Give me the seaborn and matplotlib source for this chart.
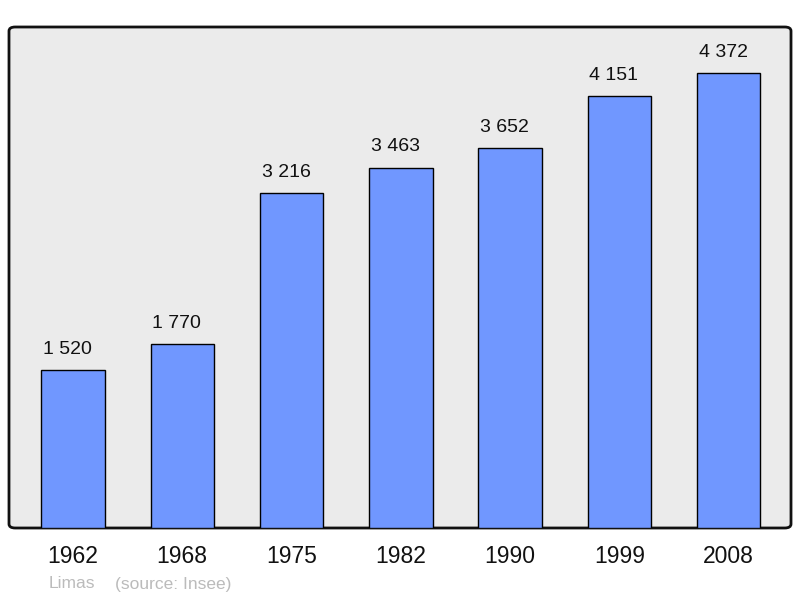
import matplotlib
matplotlib.use("Agg")
import matplotlib.pyplot as plt
from matplotlib.patches import FancyBboxPatch
import seaborn as sns
import pandas as pd

years = ["1962", "1968", "1975", "1982", "1990", "1999", "2008"]
population = [1520, 1770, 3216, 3463, 3652, 4151, 4372]
labels = ["1 520", "1 770", "3 216", "3 463", "3 652", "4 151", "4 372"]

d = pd.DataFrame({"year": years, "pop": population})

sns.set_style("white")
plt.rcParams["font.family"] = ["Liberation Sans", "DejaVu Sans"]

fig = plt.figure(figsize=(8, 5.98), dpi=100)
ax = fig.add_axes([9 / 800, 1 - 528 / 598, 782 / 800, 501 / 598])
ax.set_facecolor("none")

# rounded grey frame behind the bars
frame = FancyBboxPatch((0, 0), 1, 1, boxstyle="round,pad=0,rounding_size=0.008",
                       transform=ax.transAxes, facecolor="#ebebeb", edgecolor="#111111",
                       linewidth=2, zorder=0, clip_on=False)
ax.add_patch(frame)

sns.barplot(data=d, x="year", y="pop", color="#7097ff", saturation=1,
            edgecolor="black", linewidth=1, width=0.58, ax=ax, zorder=2)

for i, (v, t) in enumerate(zip(population, labels)):
    ax.text(i - 0.05, v + 155, t, ha="center", va="baseline", fontsize=14, color="#111111")

ax.set_xlim(-0.585, 6.57)
ax.set_ylim(0, 4814)
for s in ax.spines.values():
    s.set_visible(False)
ax.set_yticks([])
ax.set_xlabel("")
ax.set_ylabel("")
ax.tick_params(axis="x", length=0, labelsize=16.5, pad=12, colors="#111111")

fig.text(49 / 800, 1 - 584 / 598, "Limas", fontsize=12.5, color="#bbbbbb", va="center")
fig.text(115 / 800, 1 - 584 / 598, "(source: Insee)", fontsize=12.5, color="#bbbbbb", va="center")

plt.savefig("out.png", dpi=100)
